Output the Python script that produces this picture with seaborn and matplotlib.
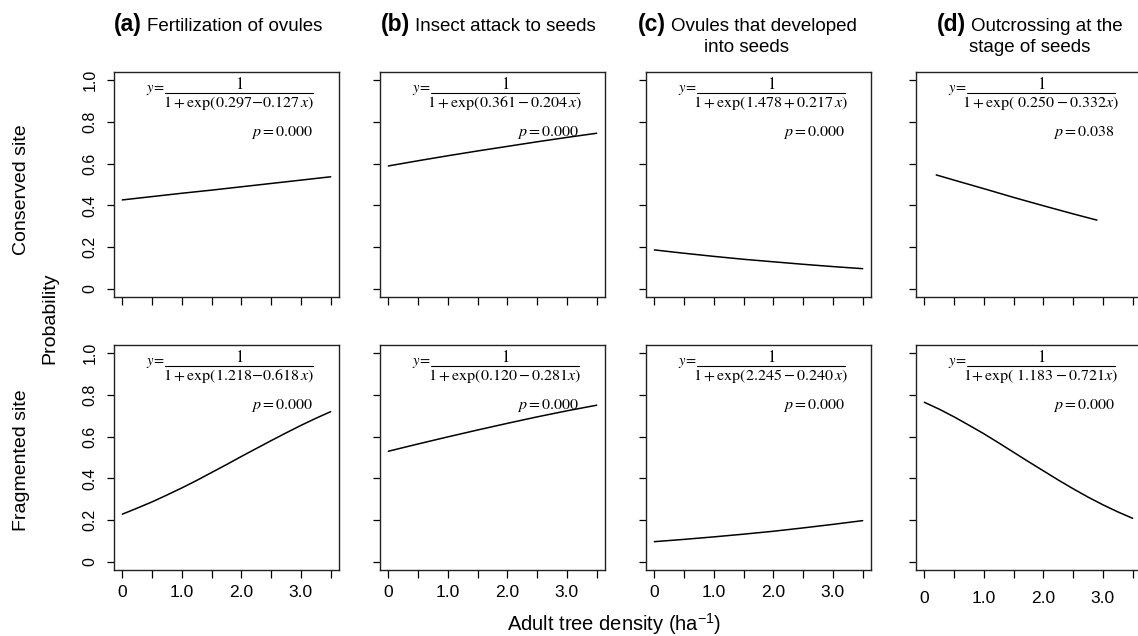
import matplotlib
matplotlib.use('Agg')
import matplotlib.pyplot as plt
import seaborn as sns

# x grids (adult tree density, ha^-1)
x_half = [0, 0.5, 1.0, 1.5, 2.0, 2.5, 3.0, 3.5]
x_quarter = [0, 0.25, 0.5, 0.75, 1.0, 1.25, 1.5, 1.75, 2.0, 2.25, 2.5, 2.75, 3.0, 3.25, 3.5]
x_cons_d = [0.2, 0.5, 1.0, 1.5, 2.0, 2.5, 2.9]

# fitted probabilities, conserved site
cons_a = [0.426, 0.442, 0.458, 0.473, 0.489, 0.505, 0.521, 0.537]
cons_b = [0.589, 0.614, 0.638, 0.661, 0.683, 0.705, 0.726, 0.746]
cons_c = [0.186, 0.170, 0.155, 0.141, 0.129, 0.117, 0.106, 0.096]
cons_d = [0.546, 0.521, 0.480, 0.438, 0.398, 0.359, 0.329]

# fragmented site
frag_a = [0.228, 0.257, 0.287, 0.320, 0.354, 0.390, 0.428, 0.466, 0.505,
          0.543, 0.581, 0.618, 0.654, 0.688, 0.720]
frag_b = [0.530, 0.565, 0.599, 0.632, 0.664, 0.695, 0.724, 0.751]
frag_c = [0.096, 0.107, 0.119, 0.132, 0.146, 0.162, 0.179, 0.197]
frag_d = [0.765, 0.732, 0.695, 0.655, 0.614, 0.570, 0.525, 0.480, 0.436,
          0.392, 0.350, 0.310, 0.273, 0.239, 0.208]

cons_x = [x_half, x_half, x_half, x_cons_d]
cons_y = [cons_a, cons_b, cons_c, cons_d]
frag_x = [x_quarter, x_half, x_half, x_quarter]
frag_y = [frag_a, frag_b, frag_c, frag_d]

cons_eq = [r'1+\mathrm{exp}(0.297\!-\!0.127\,x)', r'1+\mathrm{exp}(0.361-0.204\,x)',
           r'1+\mathrm{exp}(1.478+0.217\,x)', r'1+\mathrm{exp}(\ 0.250-0.332x)']
frag_eq = [r'1+\mathrm{exp}(1.218\!-\!0.618\,x)', r'1+\mathrm{exp}(0.120-0.281x)',
           r'1+\mathrm{exp}(2.245-0.240\,x)', r'1\!+\mathrm{exp}(\ 1.183-0.721x)']
cons_p = ['0.000', '0.000', '0.000', '0.038']
frag_p = ['0.000', '0.000', '0.000', '0.000']

titles = [('(a)', ['Fertilization of ovules']),
          ('(b)', ['Insect attack to seeds']),
          ('(c)', ['Ovules that developed', 'into seeds']),
          ('(d)', ['Outcrossing at the', 'stage of seeds'])]
title_cx = [218, 488, 747, 1030]

y_ticks = [0, 0.2, 0.4, 0.6, 0.8, 1.0]
y_labels = ['0', '0.2', '0.4', '0.6', '0.8', '1.0']
x_ticks = [0, 0.5, 1.0, 1.5, 2.0, 2.5, 3.0, 3.5]
x_labels = ['0', '', '1.0', '', '2.0', '', '3.0', '']

sns.set_style('ticks')
plt.rcParams['font.family'] = ['Liberation Sans', 'DejaVu Sans']
plt.rcParams['text.color'] = 'black'
plt.rcParams['xtick.color'] = 'black'
plt.rcParams['ytick.color'] = 'black'
plt.rcParams['xtick.labelcolor'] = 'black'
plt.rcParams['ytick.labelcolor'] = 'black'
plt.rcParams['mathtext.fontset'] = 'custom'
plt.rcParams['mathtext.rm'] = 'Liberation Sans'
plt.rcParams['mathtext.it'] = 'Liberation Sans:italic'
plt.rcParams['mathtext.bf'] = 'Liberation Sans:bold'

W, H = 1138, 636
fig = plt.figure(figsize=(W / 100, H / 100), dpi=100)

lefts = [114, 380, 646, 916]
tops = [72, 345]
size = 225


def add_equation(ax, denom, pval):
    ax.text(0.225, 0.92, r'$y\!=$', transform=ax.transAxes, ha='right', va='center',
            fontsize=10.5, math_fontfamily='stix')
    ax.plot([0.225, 0.885], [0.905, 0.905], transform=ax.transAxes, color='black', lw=0.8)
    ax.text(0.555, 0.946, r'$1$', transform=ax.transAxes, ha='center', va='center',
            fontsize=12, math_fontfamily='stix')
    ax.text(0.555, 0.862, '$' + denom + '$', transform=ax.transAxes, ha='center',
            va='center', fontsize=11.5, math_fontfamily='stix')
    ax.text(0.885, 0.73, r'$p\,\!=\,\!' + pval + '$', transform=ax.transAxes, ha='right',
            va='center', fontsize=11.5, math_fontfamily='stix')


for row in range(2):
    xs = cons_x if row == 0 else frag_x
    ys = cons_y if row == 0 else frag_y
    eqs = cons_eq if row == 0 else frag_eq
    ps = cons_p if row == 0 else frag_p
    for col in range(4):
        ax = fig.add_axes([lefts[col] / W, 1 - (tops[row] + size) / H, size / W, size / H])
        sns.lineplot(x=xs[col], y=ys[col], ax=ax, color='black', lw=1.1)
        ax.set_xlim(-0.14, 3.64)
        ax.set_ylim(-0.04, 1.04)
        ax.set_yticks(y_ticks)
        ax.set_xticks(x_ticks)
        if col == 0:
            ax.set_yticklabels(y_labels, rotation=90, va='center')
        else:
            ax.set_yticklabels([])
        if row == 1:
            ax.set_xticklabels(x_labels)
        else:
            ax.set_xticklabels([])
        pad_x = 9 if col == 3 else 5
        ax.tick_params(axis='x', direction='out', length=6, width=0.9, labelsize=12.5,
                       pad=pad_x)
        ax.tick_params(axis='y', direction='out', length=5, width=0.9, labelsize=11.5,
                       pad=7)
        for sp in ax.spines.values():
            sp.set_visible(True)
            sp.set_linewidth(1.0)
            sp.set_color('#222222')
        add_equation(ax, eqs[col], ps[col])

# panel titles: bold tag larger than the descriptive text
renderer = fig.canvas.get_renderer()
for (tag, lines), cx in zip(titles, title_cx):
    for i, line in enumerate(lines):
        base = 1 - (31 + 21 * i) / H
        if i == 0:
            tb = fig.text(0, base, tag, fontsize=16.5, fontweight='bold', va='baseline')
            tr = fig.text(0, base, line, fontsize=13.5, va='baseline')
            wb = tb.get_window_extent(renderer).width
            wr = tr.get_window_extent(renderer).width
            x0 = cx - (wb + 5 + wr) / 2
            tb.set_x(x0 / W)
            tr.set_x((x0 + wb + 5) / W)
        else:
            fig.text(cx / W, base, line, fontsize=13.5, va='baseline', ha='center')

fig.text(22 / W, 1 - 190 / H, 'Conserved site', rotation=90, ha='center', va='center',
         fontsize=14)
fig.text(22 / W, 1 - 460 / H, 'Fragmented site', rotation=90, ha='center', va='center',
         fontsize=14)
fig.text(50 / W, 1 - 318 / H, 'Probability', rotation=90, ha='center', va='center',
         fontsize=14)
fig.text(614 / W, 1 - 624 / H, 'Adult tree density (ha$^{-1}$)', ha='center', va='center',
         fontsize=14.5)

fig.savefig('out.png', dpi=100)
